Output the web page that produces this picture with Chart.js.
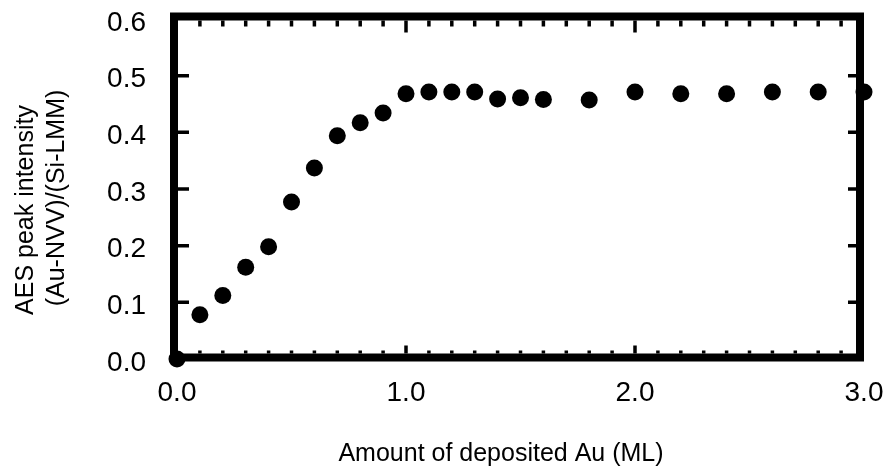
<!DOCTYPE html>
<html>
<head>
<meta charset="utf-8">
<script src="https://cdn.jsdelivr.net/npm/chart.js@4/dist/chart.umd.min.js"></script>
<style>
  html, body { margin: 0; padding: 0; background: #ffffff; }
  #wrap { width: 888px; height: 471px; }
  canvas { display: block; }
</style>
</head>
<body>
<div id="wrap"><canvas id="c" width="888" height="471"></canvas></div>
<script>
// Au coverage (ML) and the Au-NVV / Si-LMM Auger peak ratio
const coverage = [0.0, 0.1, 0.2, 0.3, 0.4, 0.5, 0.6, 0.7, 0.8, 0.9, 1.0, 1.1, 1.2, 1.3, 1.4, 1.5, 1.6,
                  1.8, 2.0, 2.2, 2.4, 2.6, 2.8, 3.0];
const ratio = [0.0, 0.078, 0.112, 0.162, 0.198, 0.277, 0.337, 0.394, 0.417, 0.434, 0.468, 0.471, 0.471, 0.471,
               0.459, 0.461, 0.458, 0.457, 0.471, 0.468, 0.468, 0.471, 0.471, 0.471];

const xTicks = [0, 1, 2, 3];
const yTicks = [0, 0.1, 0.2, 0.3, 0.4, 0.5, 0.6];

const xTitle = 'Amount of deposited Au (ML)';
const yTitle = ['AES peak intensity', '(Au-NVV)/(Si-LMM)'];

const FONT = '"Liberation Sans", Arial, Helvetica, sans-serif';

// Fixed axis boxes so the plot area sits where the frame expects it
function fixBox(size, horizontal) {
  return (s) => {
    if (horizontal) s.height = size; else s.width = size;
    s.paddingTop = 0; s.paddingBottom = 0; s.paddingLeft = 0; s.paddingRight = 0;
  };
}

// Heavy box frame with inward tick marks, plus the axis titles
const framePlugin = {
  id: 'frame',
  beforeDatasetsDraw(chart) {
    const { ctx, scales: { x, y } } = chart;
    const L = x.getPixelForValue(0) - 3;
    const R = x.getPixelForValue(3) - 4;
    const T = y.getPixelForValue(0.6) - 2.5;
    const B = y.getPixelForValue(0) - 1.5;
    const half = 4;
    ctx.save();
    ctx.strokeStyle = '#000';
    ctx.lineWidth = 8;
    ctx.lineJoin = 'miter';
    ctx.strokeRect(L, T, R - L, B - T);

    ctx.lineWidth = 3.5;
    ctx.lineCap = 'butt';
    ctx.beginPath();
    // x ticks every 0.1, longer at whole monolayers
    for (let i = 1; i < 30; i++) {
      const px = x.getPixelForValue(i / 10);
      const major = i % 10 === 0;
      ctx.moveTo(px, T + half);
      ctx.lineTo(px, T + half + (major ? 12 : 6));
      ctx.moveTo(px, B - half);
      ctx.lineTo(px, B - half - (major ? 8 : 3));
    }
    // y ticks on both sides
    for (let i = 1; i < yTicks.length - 1; i++) {
      const py = y.getPixelForValue(yTicks[i]);
      ctx.moveTo(L + half, py);
      ctx.lineTo(L + half + 11, py);
      ctx.moveTo(R - half, py);
      ctx.lineTo(R - half - 8, py);
    }
    ctx.stroke();
    ctx.restore();
  },
  afterDraw(chart) {
    const { ctx } = chart;
    ctx.save();
    ctx.fillStyle = '#000';
    ctx.font = '25px ' + FONT;
    ctx.textAlign = 'center';
    ctx.textBaseline = 'alphabetic';
    ctx.fillText(xTitle, 501, 461);

    const lines = [
      { text: yTitle[0], bx: 33, cy: 210 },
      { text: yTitle[1], bx: 64, cy: 198 }
    ];
    for (const ln of lines) {
      ctx.save();
      ctx.translate(ln.bx, ln.cy);
      ctx.rotate(-Math.PI / 2);
      ctx.fillText(ln.text, 0, 0);
      ctx.restore();
    }
    ctx.restore();
  }
};

new Chart(document.getElementById('c'), {
  type: 'scatter',
  data: {
    datasets: [{
      data: coverage.map((c, i) => ({ x: c, y: ratio[i] })),
      backgroundColor: '#000',
      borderColor: '#000',
      borderWidth: 0,
      pointRadius: 8.5,
      pointHoverRadius: 8.5,
      clip: false
    }]
  },
  options: {
    responsive: false,
    animation: false,
    events: [],
    layout: { padding: { left: 0, right: 24, top: 19, bottom: 0 } },
    plugins: {
      legend: { display: false },
      tooltip: { enabled: false }
    },
    scales: {
      x: {
        type: 'linear',
        min: 0,
        max: 3,
        grid: { display: false, drawTicks: false },
        border: { display: false },
        afterBuildTicks: (s) => { s.ticks = xTicks.map(v => ({ value: v })); },
        afterFit: fixBox(112, true),
        ticks: {
          color: '#000',
          font: { family: FONT, size: 28 },
          padding: 17,
          maxRotation: 0,
          autoSkip: false,
          callback: (v) => Number(v).toFixed(1)
        }
      },
      y: {
        type: 'linear',
        min: 0,
        max: 0.6,
        grid: { display: false, drawTicks: false },
        border: { display: false },
        afterBuildTicks: (s) => { s.ticks = yTicks.map(v => ({ value: v })); },
        afterFit: fixBox(177, false),
        ticks: {
          color: '#000',
          font: { family: FONT, size: 28 },
          padding: 31,
          labelOffset: 4,
          autoSkip: false,
          callback: (v) => Number(v).toFixed(1)
        }
      }
    }
  },
  plugins: [framePlugin]
});
</script>
</body>
</html>
